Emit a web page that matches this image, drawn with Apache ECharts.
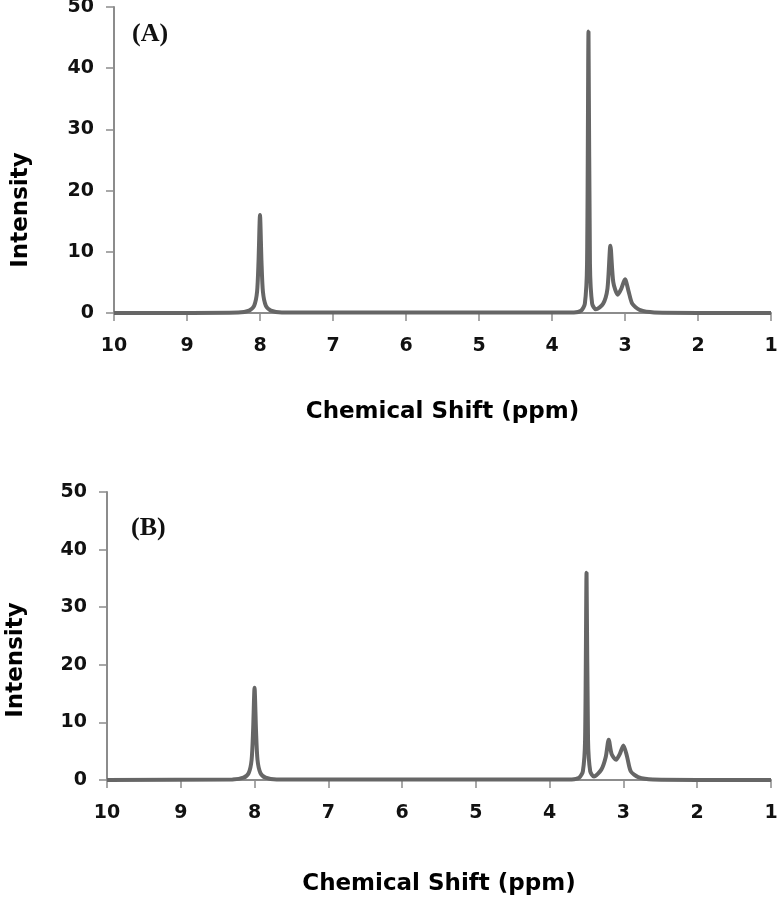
<!DOCTYPE html>
<html>
<head>
<meta charset="utf-8">
<script src="https://cdn.jsdelivr.net/npm/echarts@6/dist/echarts.min.js"></script>
<style>
  html, body { margin: 0; padding: 0; background: #fff; }
  #chart { width: 780px; height: 900px; }
</style>
</head>
<body>
<div id="chart"></div>
<script>
// chemical shift (ppm) and intensity
const shiftA = [10, 8.3, 8.15, 8.08, 8.04, 8.02, 8.0, 7.98, 7.96, 7.92, 7.85, 7.7, 3.7, 3.6, 3.55, 3.52, 3.5, 3.48, 3.45, 3.4, 3.3, 3.24, 3.2, 3.16, 3.1, 3.05, 3.0, 2.95, 2.9, 2.8, 2.6, 1]
const intensityA = [0, 0.1, 0.4, 1.2, 3.5, 8.5, 16, 8.5, 3.5, 1.2, 0.4, 0.1, 0.1, 0.4, 1.5, 8, 46, 8, 1.5, 0.6, 1.5, 4, 11, 5, 3, 4, 5.5, 3.5, 1.5, 0.5, 0.1, 0]

const shiftB = [10, 8.3, 8.15, 8.08, 8.04, 8.02, 8.0, 7.98, 7.96, 7.92, 7.85, 7.7, 3.7, 3.6, 3.55, 3.52, 3.5, 3.48, 3.45, 3.4, 3.3, 3.24, 3.2, 3.16, 3.1, 3.05, 3.0, 2.95, 2.9, 2.8, 2.6, 1]
const intensityB = [0, 0.1, 0.4, 1.2, 3.5, 8.5, 16, 8.5, 3.5, 1.2, 0.4, 0.1, 0.1, 0.4, 1.5, 7, 36, 7, 1.5, 0.6, 1.8, 4, 7, 4.5, 3.5, 4.5, 6, 4, 1.5, 0.5, 0.1, 0]

const panelLabels = ['(A)', '(B)']

const zip = (xs, ys) => xs.map((x, i) => [x, ys[i]])

const chart = echarts.init(document.getElementById('chart'))

const axisGray = '#8c8c8c'
const labelFont = { color: '#111', fontSize: 19, fontFamily: 'DejaVu Sans', fontWeight: 'bold' }
const nameFont = { color: '#000', fontSize: 23, fontFamily: 'DejaVu Sans', fontWeight: 'bold' }

function xAxis(gridIndex, gap) {
  return {
    type: 'value',
    gridIndex: gridIndex,
    min: 1,
    max: 10,
    interval: 1,
    inverse: true,
    name: 'Chemical Shift (ppm)',
    nameLocation: 'middle',
    nameGap: gap,
    nameTextStyle: nameFont,
    axisLine: { onZero: false, lineStyle: { color: axisGray, width: 2 } },
    axisTick: { show: true, length: 8, lineStyle: { color: axisGray, width: 1.5 } },
    axisLabel: Object.assign({ margin: 24 }, labelFont),
    splitLine: { show: false }
  }
}

function yAxis(gridIndex) {
  return {
    type: 'value',
    gridIndex: gridIndex,
    min: 0,
    max: 50,
    interval: 10,
    axisLine: { show: true, lineStyle: { color: axisGray, width: 2 } },
    axisTick: { show: true, length: 8, lineStyle: { color: axisGray, width: 1.5 } },
    axisLabel: Object.assign({ margin: 20 }, labelFont),
    splitLine: { show: false }
  }
}

function spectrum(idx, data) {
  return {
    type: 'line',
    xAxisIndex: idx,
    yAxisIndex: idx,
    data: data,
    showSymbol: false,
    smooth: 0.25,
    lineStyle: { color: '#666', width: 4 },
    silent: true
  }
}

// y titles sit below the panel centre in the original, so place them by hand
function yTitle(x, y) {
  return {
    type: 'text', x: x, y: y, rotation: Math.PI / 2,
    style: Object.assign({ text: 'Intensity', align: 'center', verticalAlign: 'middle', fill: '#000' },
      { fontSize: nameFont.fontSize, fontFamily: nameFont.fontFamily, fontWeight: nameFont.fontWeight })
  }
}

chart.setOption({
  backgroundColor: '#fff',
  animation: false,
  grid: [
    { left: 114, top: 7, width: 657, height: 306, containLabel: false, outerBoundsMode: 'none' },
    { left: 107, top: 492, width: 664, height: 288, containLabel: false, outerBoundsMode: 'none' }
  ],
  xAxis: [xAxis(0, 88), xAxis(1, 93)],
  yAxis: [yAxis(0), yAxis(1)],
  series: [
    spectrum(0, zip(shiftA, intensityA)),
    spectrum(1, zip(shiftB, intensityB))
  ],
  graphic: [
    yTitle(21, 210),
    yTitle(16, 660),
    {
      type: 'text', left: 132, top: 21,
      style: { text: panelLabels[0], fontSize: 26, fontWeight: 'bold', fontFamily: 'Liberation Serif', fill: '#111' }
    },
    {
      type: 'text', left: 131, top: 515,
      style: { text: panelLabels[1], fontSize: 26, fontWeight: 'bold', fontFamily: 'Liberation Serif', fill: '#111' }
    }
  ]
})
</script>
</body>
</html>
